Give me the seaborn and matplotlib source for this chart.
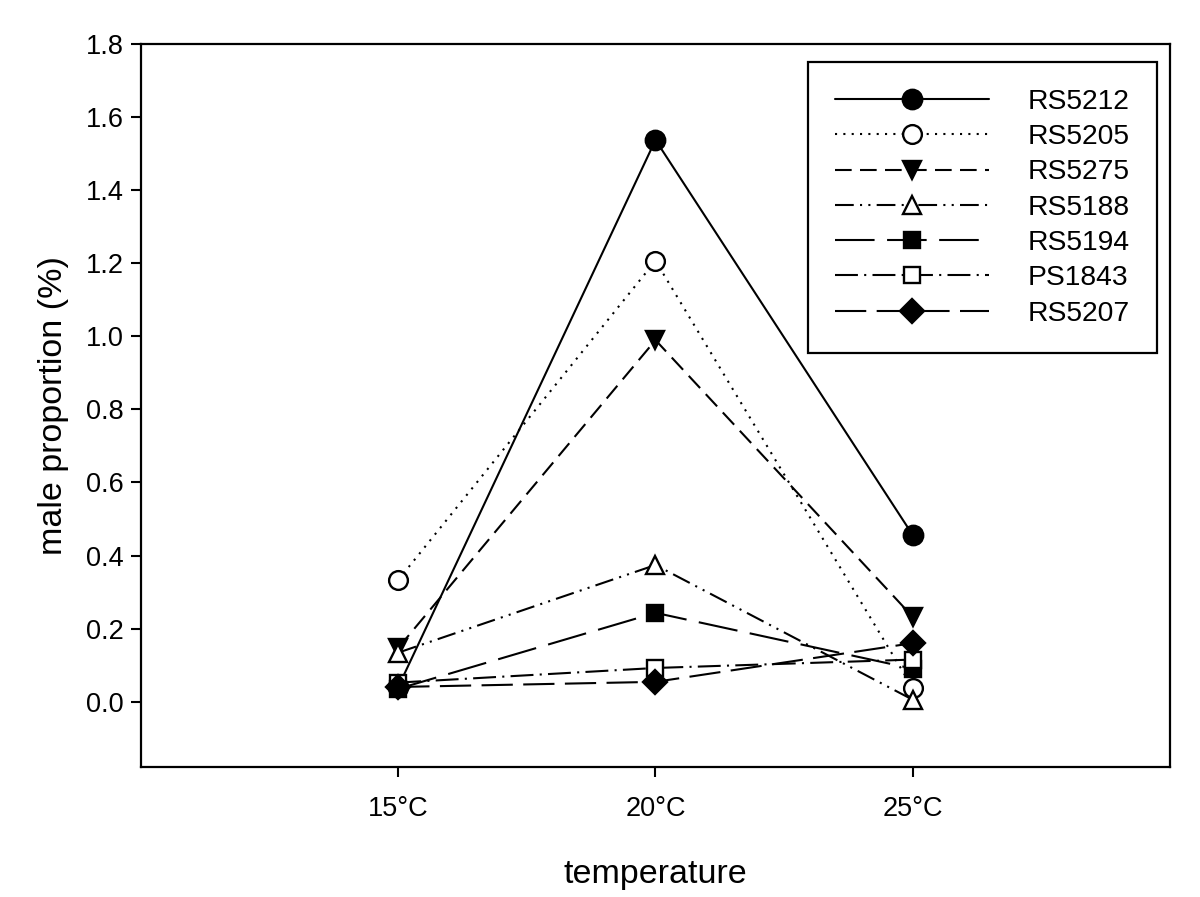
import numpy as np
import pandas as pd
import matplotlib
matplotlib.use("Agg")
import matplotlib.pyplot as plt
import seaborn as sns

# Datos
temperaturas = [15, 20, 25]
etiquetas_x = ["15°C", "20°C", "25°C"]
cepas = ["RS5212", "RS5205", "RS5275", "RS5188", "RS5194", "PS1843", "RS5207"]
RS5212 = [0.04, 1.538, 0.456]
RS5205 = [0.333, 1.207, 0.037]
RS5275 = [0.147, 0.99, 0.232]
RS5188 = [0.134, 0.374, 0.005]
RS5194 = [0.035, 0.243, 0.09]
PS1843 = [0.052, 0.092, 0.115]
RS5207 = [0.04, 0.054, 0.16]
valores = [RS5212, RS5205, RS5275, RS5188, RS5194, PS1843, RS5207]

# Estilo de cada serie
marcadores = ["o", "o", "v", "^", "s", "s", "D"]
relleno = ["k", "white", "k", "white", "k", "white", "k"]
tamanos = [14, 13.5, 13, 13, 12, 12, 12]
lineas = ["-", (0, (1, 3)), (0, (8, 4)), (0, (9, 3, 1, 3, 1, 3)),
          (0, (19, 6)), (0, (11, 3, 1, 3)), (0, (15, 5))]

df = pd.DataFrame({
    "temperature": np.tile(temperaturas, len(cepas)),
    "value": np.concatenate(valores),
    "strain": np.repeat(cepas, len(temperaturas)),
})

sns.set_style("ticks")
plt.rcParams["font.family"] = ["Liberation Sans", "DejaVu Sans"]
plt.rcParams["text.color"] = "k"
plt.rcParams["axes.labelcolor"] = "k"
plt.rcParams["xtick.color"] = "k"
plt.rcParams["ytick.color"] = "k"

fig = plt.figure(figsize=(12, 8.97), dpi=100)
ax = fig.add_axes([0.1175, 0.1446, 0.975 - 0.1175, 0.9506 - 0.1446])

for i, cepa in enumerate(cepas):
    sub = df[df["strain"] == cepa]
    sns.lineplot(data=sub, x="temperature", y="value", ax=ax, color="k",
                 linestyle=lineas[i], linewidth=1.5, marker=marcadores[i],
                 markersize=tamanos[i], markerfacecolor=relleno[i],
                 markeredgecolor="k", markeredgewidth=1.7, label=cepa,
                 zorder=3 + i)

ax.set_xlim(10, 30)
ax.set_ylim(-0.18, 1.8)
ax.set_xticks(temperaturas)
ax.set_xticklabels(etiquetas_x)
ax.set_yticks(np.arange(0, 1.81, 0.2))
ax.set_yticklabels([f"{v:.1f}" for v in np.arange(0, 1.81, 0.2)])
ax.tick_params(axis="both", labelsize=19.5, length=7.5, width=1.5,
               colors="k", direction="out")
ax.tick_params(axis="y", pad=5)
ax.tick_params(axis="x", pad=13)
for lado in ["top", "right", "left", "bottom"]:
    ax.spines[lado].set_visible(True)
    ax.spines[lado].set_linewidth(1.6)
    ax.spines[lado].set_color("k")

ax.set_xlabel("temperature", fontsize=24.5, labelpad=27, color="k")
ax.set_ylabel("male proportion (%)", fontsize=24.5, labelpad=12, color="k")

leg = ax.legend(loc="upper right", bbox_to_anchor=(0.9874, 0.9755),
                borderaxespad=0, fontsize=20.3, handlelength=5.45,
                handletextpad=1.4, labelspacing=0.33, borderpad=0.95,
                frameon=True, fancybox=False, framealpha=1)
leg.get_frame().set_edgecolor("k")
leg.get_frame().set_linewidth(1.6)
for t in leg.get_texts():
    t.set_color("k")

fig.savefig("out.png", dpi=100)
